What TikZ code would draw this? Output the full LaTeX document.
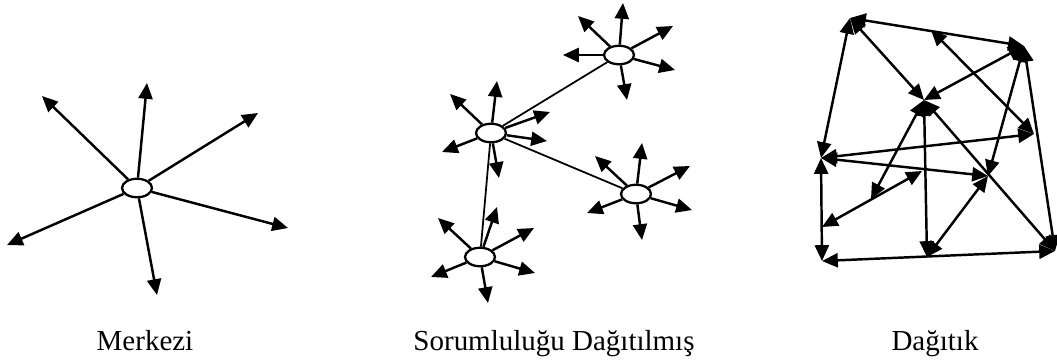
\documentclass[tikz,border=0pt]{standalone}
\usepackage{fontspec}
\setmainfont{Liberation Serif}
\usetikzlibrary{positioning,arrows.meta,shapes.geometric}

\begin{document}
\begin{tikzpicture}[
    x=0.02cm, y=-0.02cm,
    hub/.style={
        draw,
        ellipse,
        fill=white,
        line width=1.3pt,
        minimum width=0.6cm,
        minimum height=0.37cm,
        inner sep=0pt
    },
    spoke/.style={-{Triangle[length=9pt,width=8pt]}, line width=1.4pt},
    both/.style={{Triangle[length=9pt,width=8pt]}-{Triangle[length=9pt,width=8pt]}, line width=1.4pt},
    link/.style={line width=1pt},
    caption/.style={font=\fontsize{16.5}{19}\selectfont, anchor=base}
]
\useasboundingbox (0,0) rectangle (1057,362);

% Merkezi
\node[hub] (center) at (137,188) {};
\coordinate (c1) at (42,96);
\coordinate (c2) at (147,83);
\coordinate (c3) at (258,113);
\coordinate (c4) at (288,228);
\coordinate (c5) at (157,295);
\coordinate (c6) at (7,245);

% Sorumlulugu dagitilmis
\node[hub] (hubA) at (491,133) {};
\node[hub] (hubB) at (619,55) {};
\node[hub] (hubC) at (636,194) {};
\node[hub] (hubD) at (480,257) {};

\coordinate (a1) at (450,94);
\coordinate (a2) at (497,81);
\coordinate (a3) at (550,112);
\coordinate (a4) at (547,141);
\coordinate (a5) at (499,178);
\coordinate (a6) at (442,152);

\coordinate (b1) at (578,16);
\coordinate (b2) at (623,3);
\coordinate (b3) at (673,26);
\coordinate (b4) at (675,70);
\coordinate (b5) at (627,100);
\coordinate (b6) at (563,55);

\coordinate (cc1) at (595,156);
\coordinate (cc2) at (642,143);
\coordinate (cc3) at (690,166);
\coordinate (cc4) at (692,210);
\coordinate (cc5) at (642,240);
\coordinate (cc6) at (587,213);

\coordinate (d1) at (438,218);
\coordinate (d2) at (497,207);
\coordinate (d3) at (534,228);
\coordinate (d4) at (535,273);
\coordinate (d5) at (488,303);
\coordinate (d6) at (431,277);

% Dagitik
\coordinate (topleft) at (850,18);
\coordinate (topright) at (1024,46);
\coordinate (uppermid) at (924,100);
\coordinate (rightmid) at (1034,134);
\coordinate (leftmid) at (821,158);
\coordinate (crossing) at (922,171);
\coordinate (lowermid) at (988,176);
\coordinate (innerleft) at (871,199);
\coordinate (lowleft) at (822,227);
\coordinate (bottomleft) at (822,261);
\coordinate (bottommid) at (927,257);
\coordinate (bottomright) at (1055,251);
\coordinate (toptip) at (931,30);

% Yazilar
\node[caption] (merkezi) at (145,350) {Merkezi};
\node[caption] (sorumlu) at (554,350) {Sorumluluğu Dağıtılmış};
\node[caption] (dagitik) at (935,350) {Dağıtık};

% Oklar
\draw[spoke] (center) -- (c1);
\draw[spoke] (center) -- (c2);
\draw[spoke] (center) -- (c3);
\draw[spoke] (center) -- (c4);
\draw[spoke] (center) -- (c5);
\draw[spoke] (center) -- (c6);

\draw[link] (hubA) -- (hubB);
\draw[link] (hubA) -- (hubC);
\draw[link] (hubA) -- (hubD);

\draw[spoke] (hubA) -- (a1);
\draw[spoke] (hubA) -- (a2);
\draw[spoke] (hubA) -- (a3);
\draw[spoke] (hubA) -- (a4);
\draw[spoke] (hubA) -- (a5);
\draw[spoke] (hubA) -- (a6);

\draw[spoke] (hubB) -- (b1);
\draw[spoke] (hubB) -- (b2);
\draw[spoke] (hubB) -- (b3);
\draw[spoke] (hubB) -- (b4);
\draw[spoke] (hubB) -- (b5);
\draw[spoke] (hubB) -- (b6);

\draw[spoke] (hubC) -- (cc1);
\draw[spoke] (hubC) -- (cc2);
\draw[spoke] (hubC) -- (cc3);
\draw[spoke] (hubC) -- (cc4);
\draw[spoke] (hubC) -- (cc5);
\draw[spoke] (hubC) -- (cc6);

\draw[spoke] (hubD) -- (d1);
\draw[spoke] (hubD) -- (d2);
\draw[spoke] (hubD) -- (d3);
\draw[spoke] (hubD) -- (d4);
\draw[spoke] (hubD) -- (d5);
\draw[spoke] (hubD) -- (d6);

\draw[both] (topleft) -- (topright);
\draw[both] (topleft) -- (leftmid);
\draw[both] (topleft) -- (uppermid);
\draw[both] (uppermid) -- (topright);
\draw[both] (toptip) -- (rightmid);
\draw[both] (topright) -- (bottomright);
\draw[both] (rightmid) -- (leftmid);
\draw[both] (leftmid) -- (lowermid);
\draw[both] (uppermid) -- (bottommid);
\draw[both] (uppermid) -- (bottomright);
\draw[both] (lowermid) -- (topright);
\draw[both] (lowermid) -- (bottommid);
\draw[both] (uppermid) -- (innerleft);
\draw[both] (crossing) -- (lowleft);
\draw[both] (leftmid) -- (bottomleft);
\draw[both] (bottomleft) -- (bottomright);

\end{tikzpicture}
\end{document}
